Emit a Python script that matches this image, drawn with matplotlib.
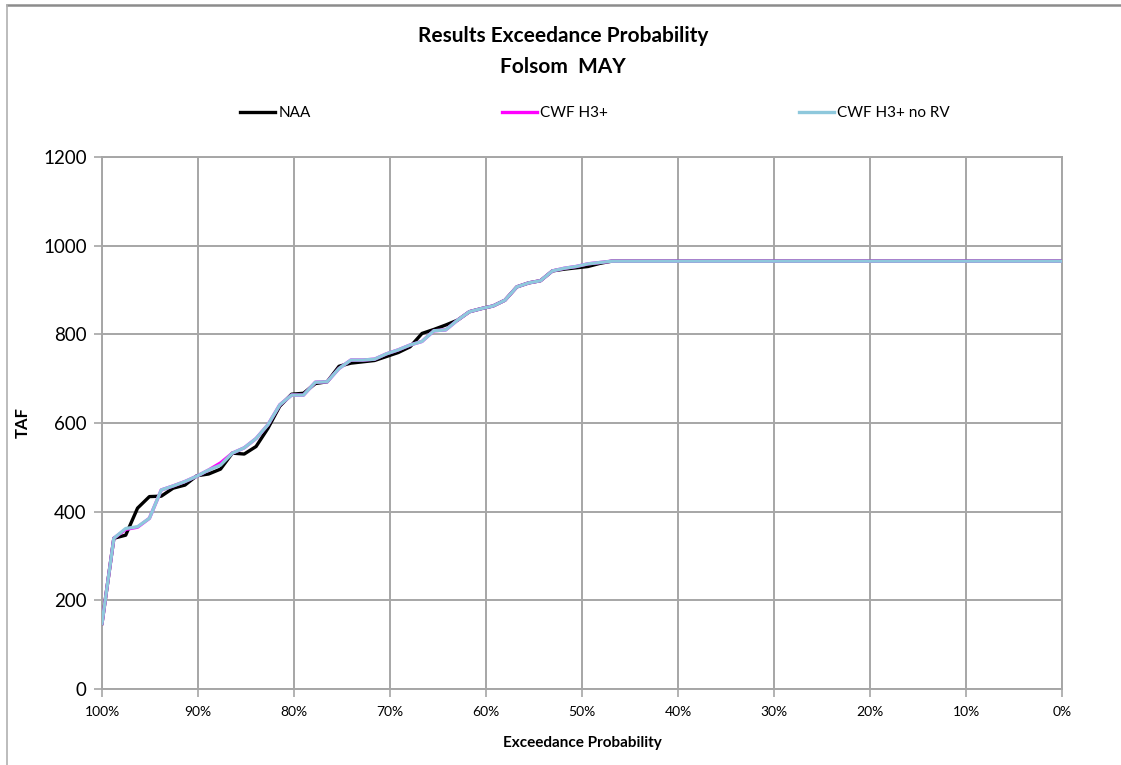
import matplotlib.pyplot as plt
from matplotlib.lines import Line2D
import numpy as np

plt.rcParams['font.family'] = ['Lato', 'DejaVu Sans']

# TAF values, sorted from highest to lowest exceedance probability
naa = [148, 340, 347, 408, 434, 435, 453, 460, 481, 485,
       496, 532, 530, 547, 588, 638, 665, 667, 689, 693,
       728, 735, 738, 741, 750, 759, 772, 802, 811, 821,
       832, 851, 858, 864, 877, 907, 916, 921, 943, 947,
       950, 953, 960, 965, 965, 965, 965, 965, 965, 965,
       965, 965, 965, 965, 965, 965, 965, 965, 965, 965,
       965, 965, 965, 965, 965, 965, 965, 965, 965, 965,
       965, 965, 965, 965, 965, 965, 965, 965, 965, 965,
       965, 965]
cwf_h3 = [148, 340, 360, 365, 385, 449, 458, 468, 480, 494,
          510, 532, 544, 565, 596, 641, 663, 663, 692, 693,
          723, 742, 742, 744, 756, 765, 776, 784, 808, 810,
          832, 851, 858, 864, 877, 907, 916, 921, 943, 949,
          953, 959, 962, 965, 965, 965, 965, 965, 965, 965,
          965, 965, 965, 965, 965, 965, 965, 965, 965, 965,
          965, 965, 965, 965, 965, 965, 965, 965, 965, 965,
          965, 965, 965, 965, 965, 965, 965, 965, 965, 965,
          965, 965]
cwf_h3_norv = [148, 340, 362, 366, 385, 449, 458, 468, 480, 494,
               505, 532, 544, 565, 596, 641, 663, 663, 692, 693,
               723, 742, 742, 744, 756, 765, 776, 784, 808, 810,
               832, 851, 858, 864, 877, 907, 916, 921, 943, 949,
               953, 959, 962, 965, 965, 965, 965, 965, 965, 965,
               965, 965, 965, 965, 965, 965, 965, 965, 965, 965,
               965, 965, 965, 965, 965, 965, 965, 965, 965, 965,
               965, 965, 965, 965, 965, 965, 965, 965, 965, 965,
               965, 965]

exceed = np.linspace(1.0, 0.0, len(naa))
xticks = np.arange(0, 1.01, 0.1)
xtick_labels = [f"{int(round(t * 100))}%" for t in xticks]

fig = plt.figure(figsize=(11.21, 7.65), dpi=100)
ax = fig.add_axes([102 / 1121, 1 - 689 / 765, 960 / 1121, 532 / 765])

grid_c = '#a6a6a6'
ax.plot(exceed, naa, color='black', lw=2.4, label='NAA', zorder=3)
ax.plot(exceed, cwf_h3, color='#ff00ff', lw=2.4, label='CWF H3+', zorder=4)
ax.plot(exceed, cwf_h3_norv, color='#8ec8dc', lw=2.4, label='CWF H3+ no RV', zorder=5)

ax.set_xlim(1.0, 0.0)
ax.set_ylim(0, 1200)
ax.set_xticks(xticks)
ax.set_xticklabels(xtick_labels, fontsize=10)
ax.set_yticks(range(0, 1201, 200))
ax.tick_params(axis='y', labelsize=13.5, length=6, color=grid_c, width=1.2, pad=5)
ax.tick_params(axis='x', length=6, color=grid_c, width=1.2, pad=6)
ax.grid(True, color=grid_c, lw=1.4)
ax.set_axisbelow(True)
for s in ax.spines.values():
    s.set_color(grid_c)
    s.set_linewidth(1.4)

ax.set_xlabel('Exceedance Probability', fontsize=11, fontweight='bold', labelpad=13)
ax.set_ylabel('TAF', fontsize=12, fontweight='bold', labelpad=9)

fig.text(563 / 1121, 1 - 36 / 765, 'Results Exceedance Probability', ha='center',
         va='center', fontsize=15, fontweight='bold')
fig.text(563 / 1121, 1 - 67 / 765, 'Folsom  MAY', ha='center', va='center',
         fontsize=15, fontweight='bold')

fig.legend(loc='center', bbox_to_anchor=(595 / 1121, 1 - 113 / 765), ncol=3,
           frameon=False, fontsize=11, handlelength=2.3, handletextpad=0.2,
           columnspacing=12.5)

# outer chart frame (only top and left edges are visible)
fig.add_artist(Line2D([7 / 1121, 1.0], [1 - 5 / 765, 1 - 5 / 765],
                      transform=fig.transFigure, color='#8c8c8c', lw=1.8))
fig.add_artist(Line2D([7 / 1121, 7 / 1121], [0.0, 1 - 5 / 765],
                      transform=fig.transFigure, color='#b0b0b0', lw=1.2))

fig.savefig('out.png', dpi=100)
